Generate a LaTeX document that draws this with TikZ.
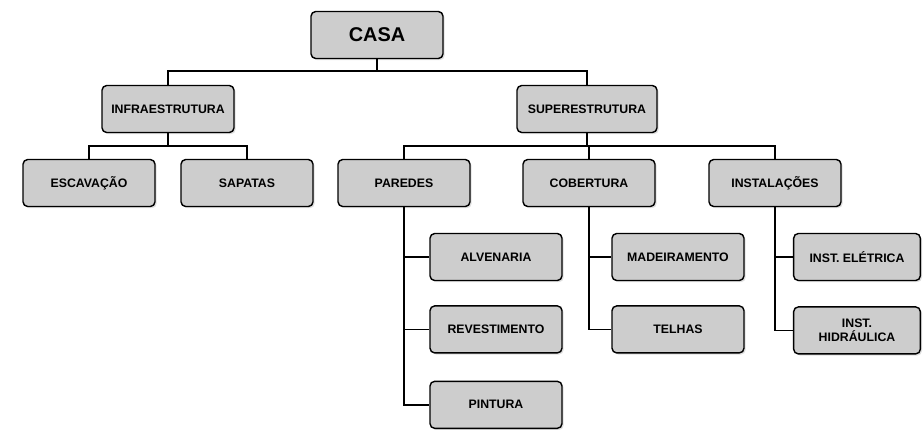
\documentclass[tikz,border=0pt]{standalone}
\usepackage{fontspec}
\setmainfont{Liberation Sans}
\usepackage{tikz}
\usetikzlibrary{positioning, shadows}
\definecolor{boxgray}{RGB}{205,205,205}

\begin{document}
\begin{tikzpicture}[
    font=\bfseries\fontsize{10.5}{12.5}\selectfont,
    node distance=0.78cm and 0.78cm,
    box/.style={draw, line width=1.2pt, rounded corners=4pt, minimum width=3.96cm,
                minimum height=1.41cm, align=center, fill=boxgray,
                drop shadow={opacity=0.25, shadow xshift=0.05cm, shadow yshift=-0.05cm}},
    ln/.style={line width=1.3pt, black}
]
\useasboundingbox (0,0) rectangle (27.69,-12.9);
% top level
\node[box, font=\bfseries\fontsize{17}{20}\selectfont] (casa) at (11.31,-1.05) {CASA};
\node[box] (infra) at (5.04,-3.27) {INFRAESTRUTURA};
\node[box, minimum width=4.2cm] (super) at (17.61,-3.27) {SUPERESTRUTURA};
% second level
\node[box] (escav)   at (2.67,-5.49)  {ESCAVAÇÃO};
\node[box] (sapatas) at (7.41,-5.49)  {SAPATAS};
\node[box] (paredes) at (12.12,-5.49) {PAREDES};
\node[box] (cobert)  at (17.67,-5.49) {COBERTURA};
\node[box] (instal)  at (23.25,-5.49) {INSTALAÇÕES};
% third level
\node[box] (alven)  at (14.88,-7.71) {ALVENARIA};
\node[box, below=0.72cm of alven]  (revest)  {REVESTIMENTO};
\node[box, below=0.81cm of revest] (pintura) {PINTURA};
\node[box] (madeir) at (20.34,-7.71) {MADEIRAMENTO};
\node[box, below=0.72cm of madeir] (telhas)  {TELHAS};
\node[box, minimum width=3.8cm] (eletr) at (25.71,-7.71) {INST. ELÉTRICA};
\node[box, minimum width=3.8cm, below=0.75cm of eletr] (hidr) {INST.\\HIDRÁULICA};
% connectors
\foreach \a/\b in {casa/infra, casa/super}
   \draw[ln] (\a.south) -- ++(0,-0.36) -| (\b.north);
\foreach \a/\b in {infra/escav, infra/sapatas, super/paredes, super/cobert, super/instal}
   \draw[ln] (\a.south) -- ++(0,-0.39) -| (\b.north);
\foreach \a/\b in {paredes/alven, paredes/revest, paredes/pintura,
                   cobert/madeir, cobert/telhas, instal/eletr, instal/hidr}
   \draw[ln] (\a.south) |- (\b.west);
\end{tikzpicture}
\end{document}
